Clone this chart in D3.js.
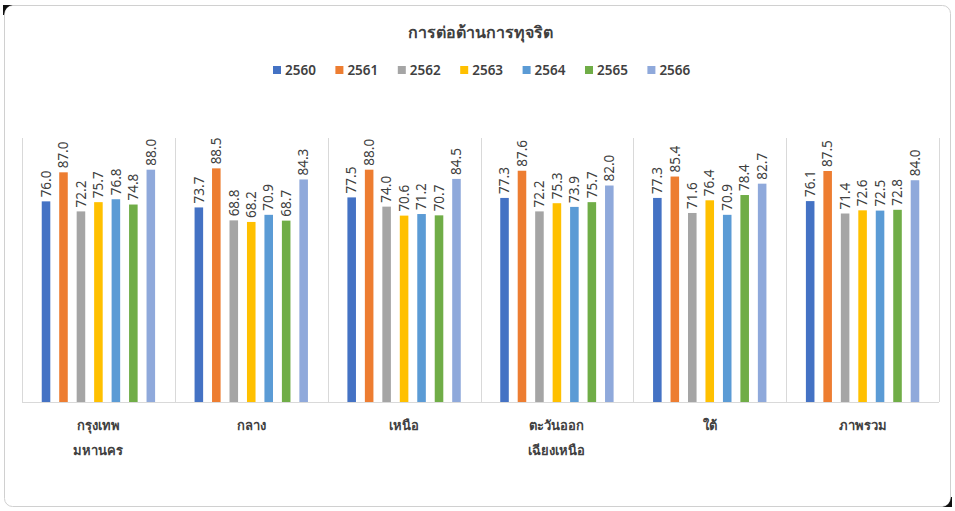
<!DOCTYPE html>
<html>
<head>
<meta charset="utf-8">
<script src="https://cdn.jsdelivr.net/npm/d3@7"></script>
<style>
  body { margin: 0; background: #fff; }
  text { font-family: "Noto Sans", "DejaVu Sans", sans-serif; }
</style>
</head>
<body>
<svg id="chart"></svg>
<script>
const regions = [["กรุงเทพ", "มหานคร"], ["กลาง"], ["เหนือ"], ["ตะวันออก", "เฉียงเหนือ"], ["ใต้"], ["ภาพรวม"]];
const years = ["2560", "2561", "2562", "2563", "2564", "2565", "2566"];
const colors = ["#4472C4", "#ED7D31", "#A5A5A5", "#FFC000", "#5B9BD5", "#70AD47", "#8FA9DB"];

const v2560 = [76.0, 73.7, 77.5, 77.3, 77.3, 76.1];
const v2561 = [87.0, 88.5, 88.0, 87.6, 85.4, 87.5];
const v2562 = [72.2, 68.8, 74.0, 72.2, 71.6, 71.4];
const v2563 = [75.7, 68.2, 70.6, 75.3, 76.4, 72.6];
const v2564 = [76.8, 70.9, 71.2, 73.9, 70.9, 72.5];
const v2565 = [74.8, 68.7, 70.7, 75.7, 78.4, 72.8];
const v2566 = [88.0, 84.3, 84.5, 82.0, 82.7, 84.0];
const series = [v2560, v2561, v2562, v2563, v2564, v2565, v2566];

const width = 955, height = 511;
const plotLeft = 22, plotRight = 939, plotTop = 138, plotBottom = 402;
const textColor = "#404040";

const svg = d3.select("#chart").attr("width", width).attr("height", height);

// card border
svg.append("rect")
    .attr("x", 4.5).attr("y", 5.5)
    .attr("width", 946).attr("height", 501)
    .attr("rx", 8)
    .attr("fill", "#fff")
    .attr("stroke", "#d0d0d0");

// dark corners left over from the screenshot crop
svg.append("path")
    .attr("d", "M3,5 H13 Q5,6 4,15 H3 Z")
    .attr("fill", "#111");
svg.append("path")
    .attr("d", "M952,507 H942 Q950,506 951,497 H952 Z")
    .attr("fill", "#111");

const x0 = d3.scaleBand()
    .domain(d3.range(regions.length))
    .range([plotLeft, plotRight]);

const x1 = d3.scaleBand()
    .domain(years)
    .range([0, x0.bandwidth()])
    .paddingInner(0.51)
    .paddingOuter(1.13);

const y = d3.scaleLinear()
    .domain([0, 100])
    .range([plotBottom, plotTop]);

// group separators
svg.append("g")
    .selectAll("line")
    .data(d3.range(regions.length + 1))
    .join("line")
    .attr("x1", i => Math.round(plotLeft + i * x0.step()) + 0.5)
    .attr("x2", i => Math.round(plotLeft + i * x0.step()) + 0.5)
    .attr("y1", plotTop)
    .attr("y2", plotBottom)
    .attr("stroke", "#d9d9d9");

// baseline
svg.append("line")
    .attr("x1", plotLeft).attr("x2", plotRight)
    .attr("y1", y(0) + 0.5).attr("y2", y(0) + 0.5)
    .attr("stroke", "#d9d9d9");

const bars = [];
series.forEach((vals, s) => {
    vals.forEach((v, g) => {
        bars.push({ g, year: years[s], color: colors[s], value: v });
    });
});

svg.append("g")
    .selectAll("rect")
    .data(bars)
    .join("rect")
    .attr("x", d => x0(d.g) + x1(d.year))
    .attr("y", d => y(d.value))
    .attr("width", x1.bandwidth())
    .attr("height", d => y(0) - y(d.value))
    .attr("fill", d => d.color);

// value labels, rotated
svg.append("g")
    .selectAll("text")
    .data(bars)
    .join("text")
    .attr("transform", d => `translate(${x0(d.g) + x1(d.year) + x1.bandwidth() / 2},${y(d.value) - 4}) rotate(-90)`)
    .attr("dy", "0.35em")
    .attr("font-size", 13.5)
    .attr("fill", textColor)
    .text(d => d.value.toFixed(1));

// category labels
const cat = svg.append("g")
    .selectAll("text")
    .data(regions)
    .join("text")
    .attr("x", (d, i) => x0(i) + x0.bandwidth() / 2)
    .attr("y", 430)
    .attr("text-anchor", "middle")
    .attr("font-size", 13)
    .attr("font-weight", "bold")
    .attr("fill", textColor);
cat.selectAll("tspan")
    .data(d => d)
    .join("tspan")
    .attr("x", function () { return d3.select(this.parentNode).attr("x"); })
    .attr("dy", (d, i) => i === 0 ? 0 : 25)
    .text(d => d);

// title
svg.append("text")
    .attr("x", 480)
    .attr("y", 38)
    .attr("text-anchor", "middle")
    .attr("font-size", 16)
    .attr("font-weight", "bold")
    .attr("fill", textColor)
    .text("การต่อต้านการทุจริต");

// legend
const legend = svg.append("g")
    .selectAll("g")
    .data(years)
    .join("g")
    .attr("transform", (d, i) => `translate(${273 + i * 62.4},70)`);
legend.append("rect")
    .attr("x", 0).attr("y", -4)
    .attr("width", 8).attr("height", 8)
    .attr("fill", (d, i) => colors[i]);
legend.append("text")
    .attr("x", 12)
    .attr("dy", "0.35em")
    .attr("font-size", 13.5)
    .attr("font-weight", 600)
    .attr("fill", textColor)
    .text(d => d);
</script>
</body>
</html>
